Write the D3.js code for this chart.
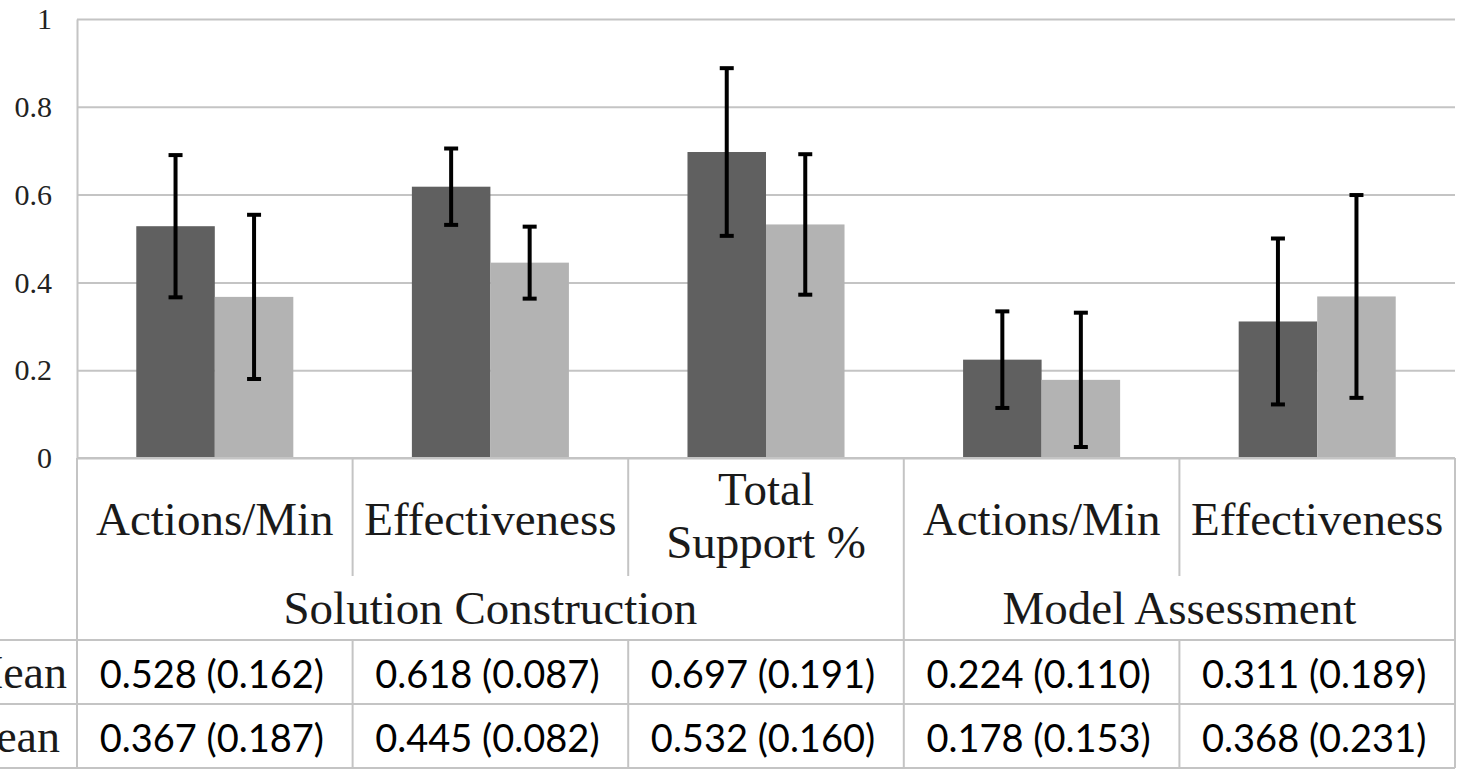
<!DOCTYPE html>
<html><head><meta charset="utf-8">
<script src="https://cdn.jsdelivr.net/npm/d3@7"></script>
<style>html,body{margin:0;padding:0;background:#fff;overflow:hidden}</style>
</head><body><svg id="c" width="1460" height="771"></svg>
<script>
const categories = ["Actions/Min","Effectiveness","Total Support %","Actions/Min","Effectiveness"];
const categoryLines = [["Actions/Min"],["Effectiveness"],["Total","Support %"],["Actions/Min"],["Effectiveness"]];
const groups = ["Solution Construction","Model Assessment"];
const groupSpans = [3,2];
const series = ["Series 1","Series 2"];
const means1 = [0.528,0.618,0.697,0.224,0.311];
const sds1   = [0.162,0.087,0.191,0.110,0.189];
const means2 = [0.367,0.445,0.532,0.178,0.368];
const sds2   = [0.187,0.082,0.160,0.153,0.231];
const rowLabels = ["Mean","Mean"];
const yTicks = [0,0.2,0.4,0.6,0.8,1];

const svg = d3.select("#c");
const L = 77, R = 1455, T = 19, B = 458;
const rowTop = [458, 576, 640, 704, 768];
const gridColor = "#c4c4c4";
const serif = "'Liberation Serif','Times New Roman',serif";
const sans = "Lato,'Open Sans',sans-serif";
const colors = ["#606060","#b3b3b3"];

const x = d3.scaleBand().domain(d3.range(categories.length)).range([L,R]).paddingInner(0).paddingOuter(0);
const x1 = d3.scaleBand().domain([0,1]).range([0,x.bandwidth()]).paddingInner(0).paddingOuter(0.755);
const y = d3.scaleLinear().domain([0,1]).range([B,T]);

// y axis with gridlines
const ax = svg.append("g").attr("transform",`translate(${L},0)`)
  .call(d3.axisLeft(y).tickValues(yTicks).tickFormat(d3.format("")).tickSize(-(R-L)).tickSizeOuter(0).tickPadding(25));
ax.select(".domain").attr("stroke",gridColor).attr("stroke-width",2);
ax.selectAll(".tick line").attr("stroke",gridColor).attr("stroke-width",2);
ax.selectAll(".tick text").attr("font-family",serif).attr("font-size",30).attr("fill","#222");

// bars
const data = categories.map((c,i)=>[{s:0,m:means1[i],sd:sds1[i]},{s:1,m:means2[i],sd:sds2[i]}]);
const gCat = svg.append("g").selectAll("g").data(data).join("g").attr("transform",(d,i)=>`translate(${x(i)},0)`);
gCat.selectAll("rect").data(d=>d).join("rect")
  .attr("x",d=>x1(d.s)).attr("width",x1.bandwidth())
  .attr("y",d=>y(d.m)).attr("height",d=>y(0)-y(d.m)).attr("fill",d=>colors[d.s]);
// error bars
const eb = gCat.selectAll("g.eb").data(d=>d).join("g").attr("class","eb");
eb.append("line").attr("x1",d=>x1(d.s)+x1.bandwidth()/2).attr("x2",d=>x1(d.s)+x1.bandwidth()/2)
  .attr("y1",d=>y(d.m+d.sd)).attr("y2",d=>y(d.m-d.sd)).attr("stroke","#000").attr("stroke-width",4);
["p","m"].forEach(k=>{
  eb.append("line").attr("x1",d=>x1(d.s)+x1.bandwidth()/2-7).attr("x2",d=>x1(d.s)+x1.bandwidth()/2+7)
    .attr("y1",d=>y(k==="p"?d.m+d.sd:d.m-d.sd)).attr("y2",d=>y(k==="p"?d.m+d.sd:d.m-d.sd))
    .attr("stroke","#000").attr("stroke-width",4);
});

// table lines
const tl = svg.append("g").attr("stroke",gridColor).attr("stroke-width",2);
tl.append("line").attr("x1",L).attr("x2",R).attr("y1",rowTop[0]).attr("y2",rowTop[0]);
[rowTop[2],rowTop[3],rowTop[4]].forEach(v=>tl.append("line").attr("x1",0).attr("x2",R).attr("y1",v).attr("y2",v));
tl.append("line").attr("x1",L).attr("x2",L).attr("y1",B).attr("y2",rowTop[4]);
tl.append("line").attr("x1",R).attr("x2",R).attr("y1",rowTop[0]).attr("y2",rowTop[4]);
// category dividers
let cum = 0; const groupEdges = [];
groupSpans.forEach(s=>{cum+=s; groupEdges.push(cum);});
for(let i=1;i<categories.length;i++){
  const full = groupEdges.includes(i);
  tl.append("line").attr("x1",x(i)).attr("x2",x(i)).attr("y1",rowTop[0]).attr("y2",full?rowTop[4]:rowTop[1]);
  if(!full) tl.append("line").attr("x1",x(i)).attr("x2",x(i)).attr("y1",rowTop[2]).attr("y2",rowTop[4]);
}

// category labels
const txt = svg.append("g").attr("fill","#1a1a1a");
categoryLines.forEach((lines,i)=>{
  const cx = x(i)+x.bandwidth()/2;
  const base = lines.length===1 ? [535] : [505,558];
  lines.forEach((t,j)=>txt.append("text").attr("x",cx).attr("y",base[j]).attr("text-anchor","middle")
    .attr("font-family",serif).attr("font-size",47).text(t));
});
// group labels
let start = 0;
groups.forEach((g,k)=>{
  const x0 = x(start), x2 = x(start+groupSpans[k]-1)+x.bandwidth();
  txt.append("text").attr("x",(x0+x2)/2).attr("y",624).attr("text-anchor","middle")
    .attr("font-family",serif).attr("font-size",47).text(g);
  start += groupSpans[k];
});
// row labels
const rowEnds = [67,60];
rowLabels.forEach((r,k)=>txt.append("text").attr("x",rowEnds[k]).attr("y",[688,752][k]).attr("text-anchor","end")
  .attr("font-family",serif).attr("font-size",46).text(r));
// data values
const f = d3.format(".3f");
[[means1,sds1],[means2,sds2]].forEach(([m,s],k)=>{
  categories.forEach((c,i)=>{
    txt.append("text").attr("x",x(i)+x.bandwidth()/2 - 3).attr("y",[688,752][k]).attr("text-anchor","middle")
      .attr("font-family",sans).attr("font-size",38).attr("fill","#000").text(`${f(m[i])} (${f(s[i])})`);
  });
});
</script></body></html>
